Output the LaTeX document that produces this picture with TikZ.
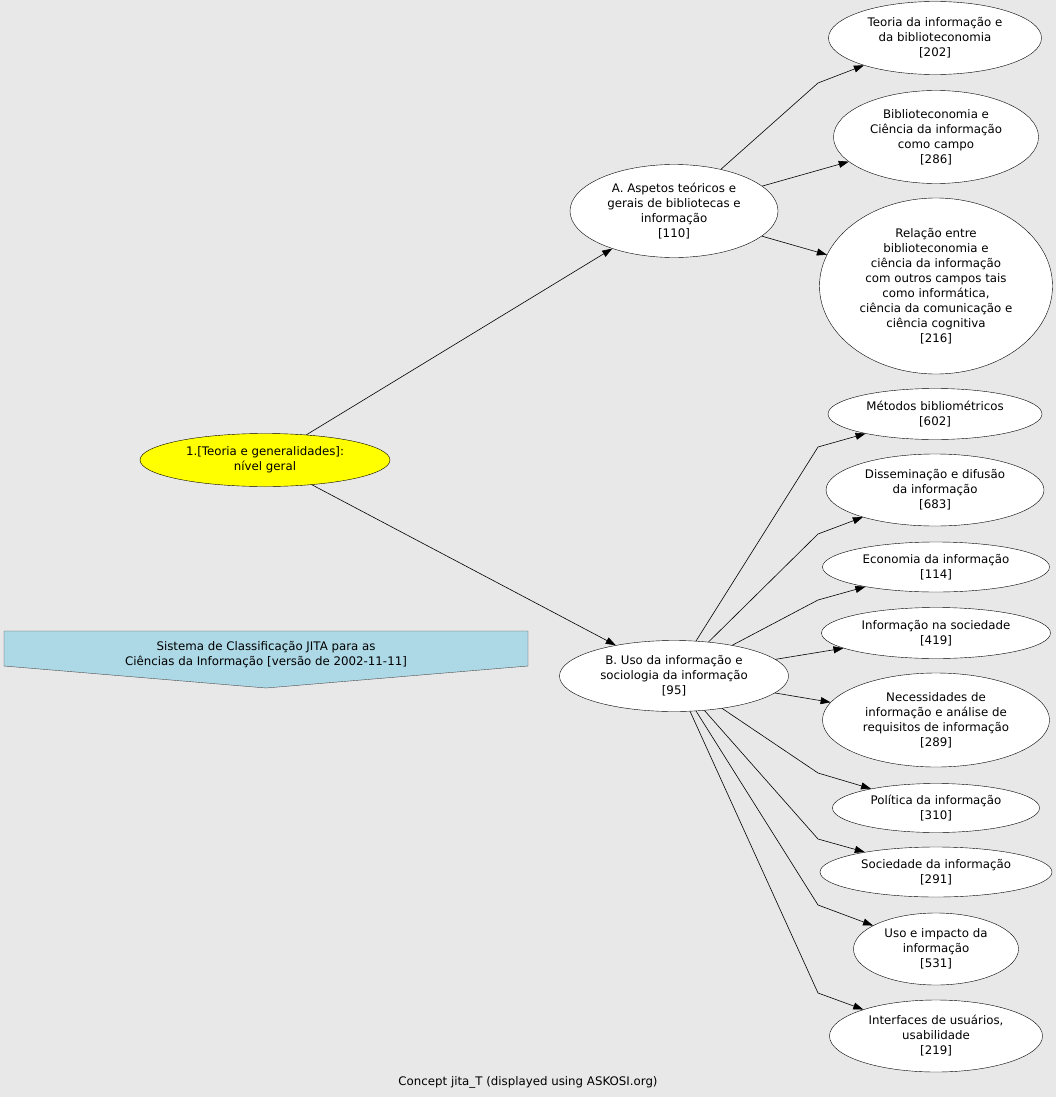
\documentclass[tikz,border=0pt]{standalone}
\usepackage{fontspec}
\setmainfont{DejaVu Sans}
\usepackage{tikz}
\usetikzlibrary{arrows.meta,shapes}
\definecolor{bggray}{HTML}{E8E8E8}
\definecolor{jitablue}{HTML}{ADD8E6}
\definecolor{jitayellow}{HTML}{FFFF00}
\tikzstyle{concept}=[ellipse,draw=black,fill=white,inner sep=0pt,align=center,font=\fontsize{11.8}{15}\selectfont]
\tikzstyle{top}=[concept,fill=jitayellow]
\tikzstyle{edge} = [draw,line width=0.6pt,-{Triangle[length=10pt,width=7pt]}]

\begin{document}
\begin{tikzpicture}[x=1pt,y=-1pt]
          \fill[bggray] (0,0) rectangle (1056,1097);
          \useasboundingbox (0,0) rectangle (1056,1097);
          \node[top,minimum width=250pt,minimum height=53pt] (r) at (265,460) {1.[Teoria e generalidades]:\\n\'ivel geral};
          \node[concept,minimum width=208pt,minimum height=93pt] (a) at (674,211) {A. Aspetos te\'oricos e\\gerais de bibliotecas e\\informa\c{c}\~ao\\{}[110]};
          \node[concept,minimum width=229pt,minimum height=71pt] (b) at (674,676) {B. Uso da informa\c{c}\~ao e\\sociologia da informa\c{c}\~ao\\{}[95]};
          \node[concept,minimum width=213pt,minimum height=73pt] (a1) at (935,38) {Teoria da informa\c{c}\~ao e\\da biblioteconomia\\{}[202]};
          \node[concept,minimum width=205pt,minimum height=93pt] (a2) at (936,137) {Biblioteconomia e\\Ci\^encia da informa\c{c}\~ao\\como campo\\{}[286]};
          \node[concept,minimum width=233pt,minimum height=176pt] (a3) at (936,286) {Rela\c{c}\~ao entre\\biblioteconomia e\\ci\^encia da informa\c{c}\~ao\\com outros campos tais\\como inform\'atica,\\ci\^encia da comunica\c{c}\~ao e\\ci\^encia cognitiva\\{}[216]};
          \node[concept,minimum width=214pt,minimum height=51pt] (b1) at (935,414) {M\'etodos bibliom\'etricos\\{}[602]};
          \node[concept,minimum width=218pt,minimum height=72pt] (b2) at (935,490) {Dissemina\c{c}\~ao e difus\~ao\\da informa\c{c}\~ao\\{}[683]};
          \node[concept,minimum width=227pt,minimum height=50pt] (b3) at (936,567) {Economia da informa\c{c}\~ao\\{}[114]};
          \node[concept,minimum width=229pt,minimum height=51pt] (b4) at (936,633) {Informa\c{c}\~ao na sociedade\\{}[419]};
          \node[concept,minimum width=227pt,minimum height=94pt] (b5) at (936,720) {Necessidades de\\informa\c{c}\~ao e an\'alise de\\requisitos de informa\c{c}\~ao\\{}[289]};
          \node[concept,minimum width=207pt,minimum height=49pt] (b6) at (936,808) {Pol\'itica da informa\c{c}\~ao\\{}[310]};
          \node[concept,minimum width=232pt,minimum height=50pt] (b7) at (936,872) {Sociedade da informa\c{c}\~ao\\{}[291]};
          \node[concept,minimum width=165pt,minimum height=72pt] (b8) at (936,949) {Uso e impacto da\\informa\c{c}\~ao\\{}[531]};
          \node[concept,minimum width=213pt,minimum height=72pt] (b9) at (936,1036) {Interfaces de usu\'arios,\\usabilidade\\{}[219]};
          % banner
          \coordinate (p1) at (4,631);
          \coordinate (p2) at (528,631);
          \coordinate (p3) at (528,666);
          \coordinate (p4) at (266,688);
          \coordinate (p5) at (4,666);
          \draw[fill=jitablue,draw=black!70] (p1) -- (p2) -- (p3) -- (p4) -- (p5) -- cycle;
          \node[align=center,inner sep=0pt,font=\fontsize{11.8}{15}\selectfont] (title) at (266,655) {Sistema de Classifica\c{c}\~ao JITA para as\\Ci\^encias da Informa\c{c}\~ao [vers\~ao de 2002-11-11]};
          \node[inner sep=0pt,font=\fontsize{11.8}{15}\selectfont] (foot) at (528,1082) {Concept jita\_T (displayed using ASKOSI.org)};
          \draw[edge] (r) to (a);
          \draw[edge] (r) to (b);
          \draw[edge] (a) -- (818,83) -- (a1);
          \draw[edge] (a) to (a2);
          \draw[edge] (a) to (a3);
          \draw[edge] (b) -- (818,447) -- (b1);
          \draw[edge] (b) -- (818,534) -- (b2);
          \draw[edge] (b) -- (818,600) -- (b3);
          \draw[edge] (b) to (b4);
          \draw[edge] (b) to (b5);
          \draw[edge] (b) -- (818,773) -- (b6);
          \draw[edge] (b) -- (818,839) -- (b7);
          \draw[edge] (b) -- (818,905) -- (b8);
          \draw[edge] (b) -- (818,993) -- (b9);
        \end{tikzpicture}
\end{document}
